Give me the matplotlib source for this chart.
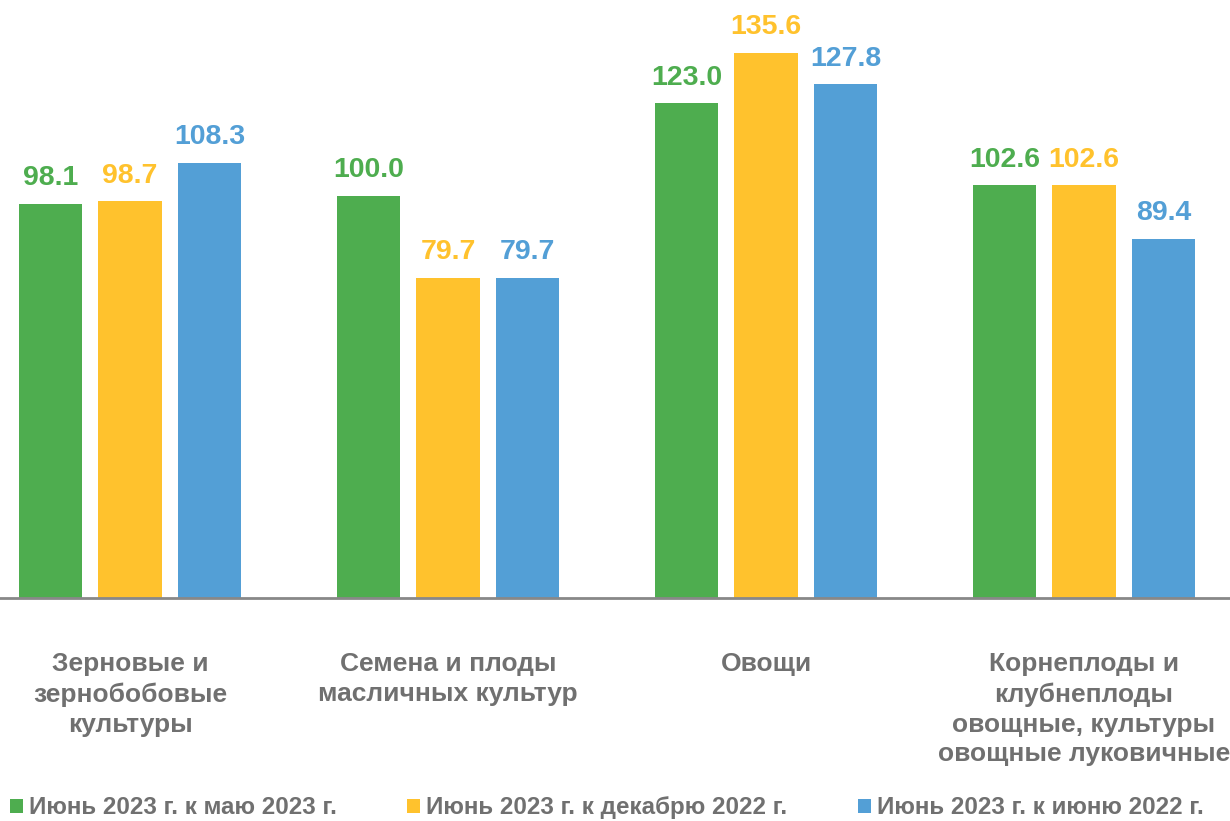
import matplotlib
matplotlib.use("Agg")
import matplotlib.pyplot as plt
import numpy as np

plt.rcParams['font.family'] = ['Liberation Sans', 'DejaVu Sans']
plt.rcParams['font.weight'] = 'bold'

# data
categories = ["Зерновые и\nзернобобовые\nкультуры",
              "Семена и плоды\nмасличных культур",
              "Овощи",
              "Корнеплоды и\nклубнеплоды\nовощные, культуры\nовощные луковичные"]
series_names = ["Июнь 2023 г. к маю 2023 г.",
                "Июнь 2023 г. к декабрю 2022 г.",
                "Июнь 2023 г. к июню 2022 г."]
may_2023 = [98.1, 100.0, 123.0, 102.6]
dec_2022 = [98.7, 79.7, 135.6, 102.6]
jun_2022 = [108.3, 79.7, 127.8, 89.4]
colors = ["#4EAD4F", "#FFC22D", "#539FD6"]
text_gray = "#707070"

W, H = 1230, 821
fig = plt.figure(figsize=(W / 100, H / 100), dpi=100)
# axes is wider than the figure: the original chart is cropped at both sides
ax = fig.add_axes([-29 / W, (H - 598) / H, 1272 / W, 583 / H])

x = np.arange(len(categories))
offsets = [-0.25, 0, 0.25]
bars = []
for vals, off, col, name in zip([may_2023, dec_2022, jun_2022], offsets, colors, series_names):
    b = ax.bar(x + off, vals, width=0.2, color=col, label=name, zorder=2)
    bars.append(b)
    for xi, v in zip(x + off, vals):
        ax.annotate(f"{v:.1f}", (xi, v), xytext=(0, 9), textcoords="offset points",
                    ha="center", va="bottom", color=col, fontsize=20.5,
                    fontweight="bold", annotation_clip=False)

ax.set_xlim(-0.5, 3.5)
ax.set_ylim(0, 145)
for s in ["top", "right", "left"]:
    ax.spines[s].set_visible(False)
ax.spines["bottom"].set_color("#888888")
ax.spines["bottom"].set_linewidth(2)
ax.set_yticks([])
ax.set_xticks([])

# category labels below the axis
for xi, cat in zip(x, categories):
    ax.annotate(cat, (xi, 0), xytext=(0, -39), textcoords="offset points",
                ha="center", va="top", color=text_gray, fontsize=19,
                fontweight="bold", linespacing=1.31, annotation_clip=False)

leg = fig.legend(handles=bars, labels=series_names, loc="lower left",
                 bbox_to_anchor=(0.004, -0.004), ncol=3, frameon=False,
                 handlelength=0.55, handleheight=0.55, handletextpad=0.25,
                 columnspacing=2.9, borderaxespad=0, borderpad=0.2,
                 prop={"size": 17.4, "weight": "bold"})
for t in leg.get_texts():
    t.set_color(text_gray)

fig.savefig("out.png", dpi=100)
